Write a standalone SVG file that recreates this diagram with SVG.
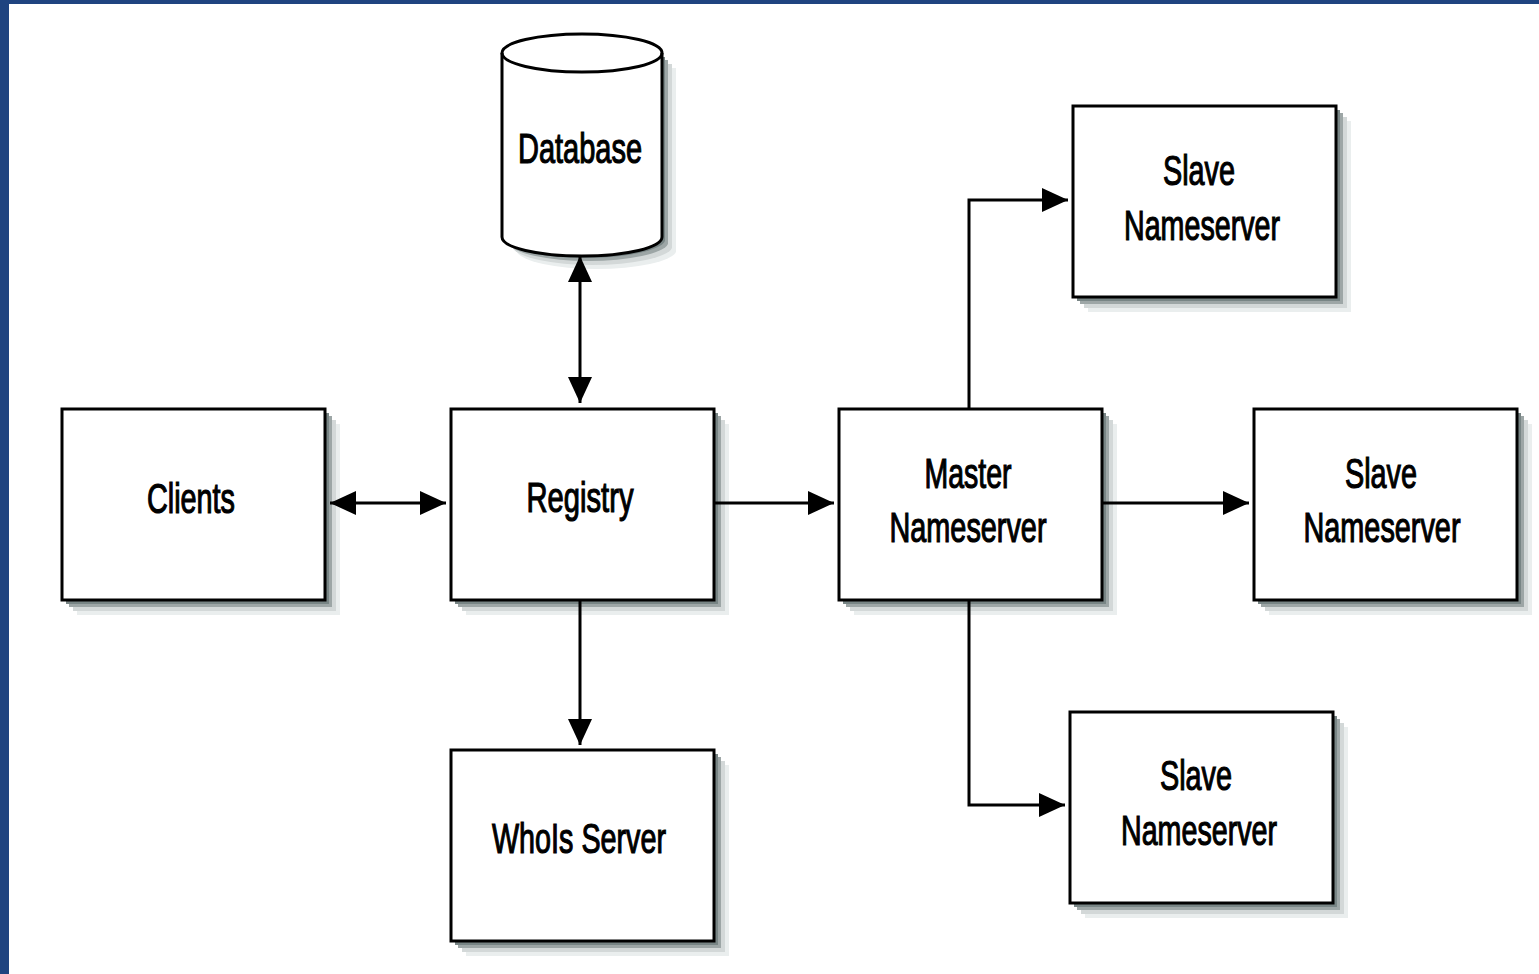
<svg xmlns="http://www.w3.org/2000/svg" width="1539" height="974" viewBox="0 0 1539 974">
<style>
.box{fill:#fff;stroke:#000;stroke-width:3}
.s1{fill:#eaeeee}.s2{fill:#d3d8d8}.s3{fill:#9da6a6}.s4{fill:#788585}
.lbl{font-family:"Liberation Sans",Arial,sans-serif;font-size:42px;fill:#000;stroke:#000;stroke-width:1.2;text-anchor:middle}
.conn{fill:none;stroke:#000;stroke-width:3}
</style>
<defs>
<marker id="ah" markerUnits="userSpaceOnUse" markerWidth="30" markerHeight="26" refX="26" refY="12" orient="auto-start-reverse">
<path d="M0,0 L26,12 L0,24 Z" fill="#000"/>
</marker>
<g id="shadow">
<rect x="15" y="15" width="263" height="191" class="s1"/>
<rect x="11" y="11" width="263" height="191" class="s2"/>
<rect x="7" y="7" width="263" height="191" class="s3"/>
<rect x="4" y="4" width="263" height="191" class="s4"/>
</g>
</defs>
<rect x="0" y="0" width="1539" height="974" fill="#fff"/>
<rect x="0" y="0" width="1539" height="4" fill="#1f4480"/>
<rect x="0" y="0" width="9" height="974" fill="#1f4480"/>

<g id="database">
<path d="M517,68 L676,68 L676,252 A80,19 0 0 1 517,252 Z" class="s1"/>
<path d="M513,64 L672,64 L672,248 A80,19 0 0 1 513,248 Z" class="s2"/>
<path d="M509,60 L668,60 L668,244 A80,19 0 0 1 509,244 Z" class="s3"/>
<path d="M506,57 L665,57 L665,241 A80,19 0 0 1 506,241 Z" class="s4"/>
<path d="M502,53 A80,19 0 0 1 662,53 L662,237 A80,19 0 0 1 502,237 Z" class="box"/>
<path d="M502,53 A80,19 0 0 0 662,53" class="conn"/>
<text class="lbl" x="580" y="163" textLength="124" lengthAdjust="spacingAndGlyphs">Database</text>
</g>

<g id="clients">
<use href="#shadow" x="62" y="409"/>
<rect x="62" y="409" width="263" height="191" class="box"/>
<text class="lbl" x="191" y="513" textLength="88" lengthAdjust="spacingAndGlyphs">Clients</text>
</g>

<g id="registry">
<use href="#shadow" x="451" y="409"/>
<rect x="451" y="409" width="263" height="191" class="box"/>
<text class="lbl" x="580" y="512" textLength="107" lengthAdjust="spacingAndGlyphs">Registry</text>
</g>

<g id="whois">
<use href="#shadow" x="451" y="750"/>
<rect x="451" y="750" width="263" height="191" class="box"/>
<text class="lbl" x="579" y="853" textLength="174" lengthAdjust="spacingAndGlyphs">WhoIs Server</text>
</g>

<g id="master">
<use href="#shadow" x="839" y="409"/>
<rect x="839" y="409" width="263" height="191" class="box"/>
<text class="lbl" x="968" y="488" textLength="87" lengthAdjust="spacingAndGlyphs">Master</text>
<text class="lbl" x="968" y="542" textLength="157" lengthAdjust="spacingAndGlyphs">Nameserver</text>
</g>

<g id="slave-top">
<use href="#shadow" x="1073" y="106"/>
<rect x="1073" y="106" width="263" height="191" class="box"/>
<text class="lbl" x="1199" y="185" textLength="72" lengthAdjust="spacingAndGlyphs">Slave</text>
<text class="lbl" x="1202" y="240" textLength="156" lengthAdjust="spacingAndGlyphs">Nameserver</text>
</g>

<g id="slave-right">
<use href="#shadow" x="1254" y="409"/>
<rect x="1254" y="409" width="263" height="191" class="box"/>
<text class="lbl" x="1381" y="488" textLength="72" lengthAdjust="spacingAndGlyphs">Slave</text>
<text class="lbl" x="1382" y="542" textLength="157" lengthAdjust="spacingAndGlyphs">Nameserver</text>
</g>

<g id="slave-bottom">
<use href="#shadow" x="1070" y="712"/>
<rect x="1070" y="712" width="263" height="191" class="box"/>
<text class="lbl" x="1196" y="790" textLength="72" lengthAdjust="spacingAndGlyphs">Slave</text>
<text class="lbl" x="1199" y="845" textLength="156" lengthAdjust="spacingAndGlyphs">Nameserver</text>
</g>

<g id="connectors">
<path d="M330,503 L446,503" class="conn" marker-start="url(#ah)" marker-end="url(#ah)"/>
<path d="M580,256 L580,403" class="conn" marker-start="url(#ah)" marker-end="url(#ah)"/>
<path d="M580,600 L580,745" class="conn" marker-end="url(#ah)"/>
<path d="M714,503 L834,503" class="conn" marker-end="url(#ah)"/>
<path d="M1102,503 L1249,503" class="conn" marker-end="url(#ah)"/>
<path d="M969,409 L969,200 L1068,200" class="conn" marker-end="url(#ah)"/>
<path d="M969,600 L969,805 L1065,805" class="conn" marker-end="url(#ah)"/>
</g>
</svg>
